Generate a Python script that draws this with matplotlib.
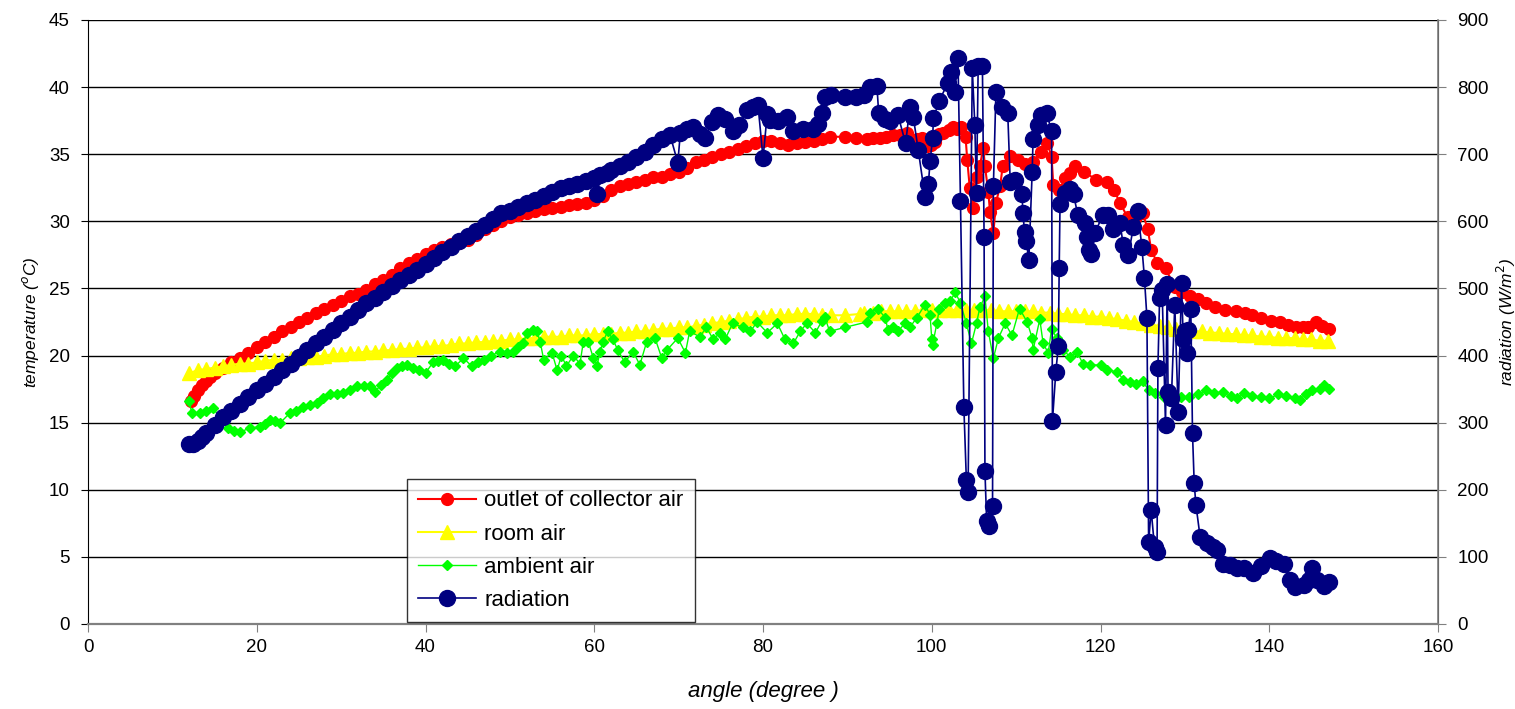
import matplotlib.pyplot as plt

plt.rcParams['font.family'] = ['Liberation Sans', 'DejaVu Sans']

# outlet of collector air (deg C)
outlet_angle = [12.2, 12.6, 13.0, 13.5, 14.0, 14.5, 15.0, 16.0, 17.0, 18.0, 19.0, 20.0,
                21.0, 22.0, 23.0, 24.0, 25.0, 26.0, 27.0, 28.0, 29.0, 30.0, 31.0, 32.0,
                33.0, 34.0, 35.0, 36.0, 37.0, 38.0, 39.0, 40.0, 41.0, 42.0, 43.0, 44.0,
                45.0, 46.0, 47.0, 48.0, 49.0, 50.0, 51.0, 52.0, 53.0, 54.0, 55.0, 56.0,
                57.0, 58.0, 59.0, 60.0, 61.0, 62.0, 63.0, 64.0, 65.0, 66.0, 67.0, 68.0,
                69.0, 70.0, 71.0, 72.0, 73.0, 74.0, 75.0, 76.0, 77.0, 78.0, 79.0, 80.0,
                81.0, 82.0, 83.0, 84.0, 85.0, 86.0, 87.0, 87.9, 89.7, 91.0, 92.3, 93.0,
                93.9, 94.6, 95.4, 96.2, 97.1, 98.2, 98.8, 99.4, 99.9, 100.4, 100.8, 101.3,
                102.0, 102.5, 103.0, 103.5, 104.0, 104.2, 104.5, 104.9, 105.3, 105.7, 106.1, 106.3,
                106.7, 106.9, 107.3, 107.6, 108.1, 108.4, 109.3, 110.2, 111.1, 112.0, 112.9, 113.7,
                114.2, 114.4, 115.1, 115.8, 116.4, 117.0, 118.0, 119.5, 120.8, 121.6, 122.3, 123.2,
                124.1, 125.0, 125.6, 126.0, 126.7, 127.7, 128.8, 129.7, 130.6, 131.5, 132.5, 133.6,
                134.8, 136.0, 137.1, 138.0, 139.0, 140.2, 141.3, 142.2, 143.2, 144.0, 144.6, 145.5,
                146.3, 147.1]
outlet_temp = [16.6, 17.0, 17.4, 17.8, 18.1, 18.4, 18.7, 19.1, 19.5, 19.8, 20.2, 20.6,
               21.0, 21.4, 21.8, 22.1, 22.5, 22.8, 23.2, 23.5, 23.8, 24.1, 24.4, 24.6,
               24.9, 25.3, 25.6, 26.0, 26.5, 26.9, 27.2, 27.6, 27.9, 28.1, 28.3, 28.4,
               28.6, 29.0, 29.4, 29.7, 30.0, 30.3, 30.5, 30.6, 30.8, 30.9, 31.0, 31.1,
               31.2, 31.3, 31.4, 31.6, 31.9, 32.3, 32.6, 32.8, 32.9, 33.1, 33.3, 33.3,
               33.5, 33.7, 34.0, 34.4, 34.6, 34.8, 35.0, 35.2, 35.4, 35.6, 35.8, 36.0,
               36.0, 35.8, 35.7, 35.8, 35.9, 36.0, 36.1, 36.3, 36.3, 36.2, 36.1, 36.2,
               36.2, 36.3, 36.4, 36.4, 36.6, 36.1, 36.2, 35.6, 35.7, 35.9, 36.5, 36.6,
               36.8, 37.0, 36.9, 37.0, 36.3, 34.6, 32.5, 31.0, 33.3, 34.1, 35.5, 34.1,
               32.2, 30.7, 29.1, 31.4, 32.6, 34.1, 34.9, 34.6, 34.3, 34.4, 35.2, 35.8,
               34.8, 32.7, 32.3, 33.2, 33.6, 34.1, 33.7, 33.1, 32.9, 32.3, 31.4, 30.3,
               30.2, 30.6, 29.4, 27.9, 26.9, 26.5, 25.1, 24.7, 24.4, 24.2, 23.9, 23.6,
               23.4, 23.3, 23.2, 23.0, 22.8, 22.6, 22.5, 22.3, 22.1, 22.1, 22.1, 22.5,
               22.2, 22.0]

# room air (deg C)
room_angle = [12, 13, 14, 15, 16, 17, 18, 19, 20, 21, 22, 23, 24, 25, 26, 27, 28, 29,
              30, 31, 32, 33, 34, 35, 36, 37, 38, 39, 40, 41, 42, 43, 44, 45, 46, 47,
              48, 49, 50, 51, 52, 53, 54, 55, 56, 57, 58, 59, 60, 61, 62, 63, 64, 65,
              66, 67, 68, 69, 70, 71, 72, 73, 74, 75, 76, 77, 78, 79, 80, 81, 82, 83,
              84, 85, 86, 87, 88, 89.7, 91.5, 92, 93, 94, 95, 96, 97, 98, 99, 100, 101,
              102, 103, 104, 105, 106, 107, 108, 109, 110, 111, 112, 113, 114, 115, 116, 117,
              118, 119, 120, 121, 122, 123, 124, 125, 126, 127, 128, 129, 130, 131, 132, 133,
              134, 135, 136, 137, 138, 139, 140, 141, 142, 143, 144, 145, 146, 147]
room_temp = [18.7, 18.9, 19.0, 19.1, 19.2, 19.3, 19.4, 19.4, 19.5, 19.6, 19.7, 19.7, 19.8, 19.8, 19.9, 19.9, 20.0, 20.1,
             20.1, 20.2, 20.2, 20.3, 20.3, 20.4, 20.4, 20.5, 20.5, 20.6, 20.6, 20.7, 20.7, 20.8, 20.9, 20.9, 21.0, 21.0,
             21.1, 21.1, 21.2, 21.2, 21.3, 21.3, 21.4, 21.4, 21.4, 21.5, 21.5, 21.5, 21.6, 21.6, 21.6, 21.7, 21.7, 21.8,
             21.8, 21.9, 22.0, 22.0, 22.1, 22.1, 22.2, 22.3, 22.4, 22.5, 22.6, 22.7, 22.8, 22.9, 22.9, 23.0, 23.0, 23.0,
             23.1, 23.1, 23.1, 23.0, 23.0, 23.0, 23.1, 23.2, 23.2, 23.3, 23.3, 23.3, 23.3, 23.3, 23.4, 23.4, 23.4,
             23.4, 23.4, 23.4, 23.4, 23.4, 23.4, 23.3, 23.3, 23.3, 23.3, 23.3, 23.2, 23.2, 23.1, 23.1, 23.0,
             23.0, 22.9, 22.9, 22.8, 22.7, 22.6, 22.5, 22.4, 22.3, 22.2, 22.1, 22.0, 21.9, 21.8, 21.8, 21.7,
             21.7, 21.6, 21.6, 21.5, 21.5, 21.4, 21.4, 21.3, 21.3, 21.3, 21.2, 21.2, 21.1, 21.1]

# ambient air (deg C)
ambient_angle = [12.0, 12.3, 13.3, 14.0, 14.8, 15.6, 16.6, 17.3, 18.0, 19.2, 20.4, 21.0,
                 21.6, 22.2, 22.8, 23.9, 24.7, 25.5, 26.3, 27.1, 27.9, 28.7, 29.5, 30.2,
                 31.0, 31.9, 32.7, 33.4, 34.0, 34.7, 35.4, 36.0, 36.6, 37.2, 37.8, 38.5,
                 39.2, 40.0, 40.9, 41.5, 42.1, 42.8, 43.5, 44.5, 45.5, 46.2, 46.9, 47.8,
                 48.8, 49.6, 50.4, 51.0, 51.6, 52.0, 52.7, 53.2, 53.6, 54.0, 55.0, 55.6,
                 56.1, 56.7, 57.5, 58.3, 58.7, 59.3, 59.9, 60.3, 60.7, 61.0, 61.6, 62.2,
                 62.8, 63.6, 64.6, 65.4, 66.2, 67.2, 68.0, 68.6, 69.9, 70.8, 71.3, 72.5,
                 73.3, 74.1, 74.9, 75.5, 76.4, 77.6, 78.5, 79.3, 80.5, 81.7, 82.6, 83.6,
                 84.4, 85.2, 86.2, 87.0, 87.3, 87.9, 89.7, 92.3, 92.7, 93.6, 94.5, 94.8,
                 95.4, 96.0, 96.8, 97.4, 98.2, 99.2, 99.8, 100.0, 100.1, 100.6, 100.9, 101.6,
                 102.2, 102.8, 103.4, 104.1, 104.7, 105.3, 105.7, 106.3, 106.7, 107.3, 107.9, 108.7,
                 109.5, 110.4, 111.3, 111.9, 112.0, 112.8, 113.2, 113.8, 114.2, 114.8, 115.6, 116.4,
                 117.2, 117.9, 118.8, 120.0, 120.8, 122.0, 122.7, 123.5, 124.2, 125.0, 125.7, 126.5,
                 127.5, 128.5, 129.5, 130.5, 131.5, 132.5, 133.5, 134.5, 135.5, 136.2, 137.0, 138.0,
                 139.0, 140.0, 141.0, 142.0, 143.0, 143.6, 144.3, 145.1, 146.0, 146.5, 147.1]
ambient_temp = [16.6, 15.7, 15.7, 15.9, 16.1, 15.4, 14.6, 14.4, 14.3, 14.6, 14.7, 14.9,
                15.2, 15.1, 15.0, 15.7, 15.9, 16.2, 16.3, 16.5, 16.8, 17.1, 17.1, 17.2,
                17.4, 17.7, 17.7, 17.7, 17.3, 17.8, 18.2, 18.7, 19.1, 19.2, 19.3, 19.1,
                18.9, 18.7, 19.5, 19.6, 19.7, 19.4, 19.2, 19.8, 19.2, 19.5, 19.7, 20.0,
                20.3, 20.2, 20.3, 20.6, 20.9, 21.7, 21.9, 21.8, 21.0, 19.7, 20.2, 18.9,
                20.0, 19.2, 20.0, 19.4, 21.0, 21.0, 19.8, 19.2, 20.3, 21.0, 21.8, 21.2,
                20.4, 19.5, 20.3, 19.3, 21.0, 21.3, 19.8, 20.4, 21.3, 20.2, 21.8, 21.4,
                22.1, 21.2, 21.7, 21.2, 22.4, 22.1, 21.8, 22.5, 21.7, 22.4, 21.2, 20.9,
                21.8, 22.4, 21.7, 22.6, 22.9, 21.8, 22.1, 22.5, 23.2, 23.5, 22.8, 21.9,
                22.1, 21.8, 22.4, 22.1, 22.8, 23.8, 23.0, 21.2, 20.8, 22.4, 23.5, 23.9,
                24.1, 24.7, 23.9, 22.4, 20.9, 22.4, 23.6, 24.4, 21.8, 19.8, 21.3, 22.4,
                21.5, 23.5, 22.5, 21.3, 20.4, 22.7, 20.9, 20.2, 22.0, 21.3, 20.4, 19.9,
                20.3, 19.4, 19.3, 19.3, 18.9, 18.8, 18.2, 18.0, 17.9, 18.1, 17.4, 17.2,
                16.9, 17.0, 16.9, 16.9, 17.1, 17.4, 17.2, 17.3, 17.0, 16.8, 17.2, 17.0,
                16.9, 16.8, 17.1, 17.0, 16.8, 16.7, 17.1, 17.4, 17.5, 17.8, 17.5]

# radiation (W/m2)
rad_angle = [12.0, 12.5, 13.0, 13.5, 14.0, 15.0, 16.0, 17.0, 18.0, 19.0, 20.0, 21.0,
             22.0, 23.0, 24.0, 25.0, 26.0, 27.0, 28.0, 29.0, 30.0, 31.0, 32.0, 33.0,
             34.0, 35.0, 36.0, 37.0, 38.0, 39.0, 40.0, 41.0, 42.0, 43.0, 44.0, 45.0,
             46.0, 47.0, 48.0, 49.0, 50.0, 51.0, 52.0, 53.0, 54.0, 55.0, 56.0, 57.0,
             58.0, 59.0, 60.0, 60.3, 60.7, 61.5, 62.0, 63.0, 64.0, 65.0, 66.0, 67.0,
             68.0, 69.0, 69.9, 70.2, 71.0, 71.7, 72.5, 73.1, 74.0, 74.7, 75.5, 76.4,
             77.2, 78.1, 78.8, 79.4, 80.0, 80.5, 80.8, 81.8, 82.8, 83.6, 84.7, 85.9,
             86.5, 87.0, 87.3, 88.0, 89.7, 91.0, 92.0, 92.7, 93.5, 93.7, 94.5, 95.1,
             96.0, 96.9, 97.4, 97.8, 98.4, 99.2, 99.6, 99.8, 100.1, 100.2, 100.9, 101.9,
             102.3, 102.7, 103.1, 103.4, 103.8, 104.1, 104.3, 104.8, 105.1, 105.3, 105.5, 106.0,
             106.2, 106.3, 106.5, 106.8, 107.2, 107.3, 107.6, 108.3, 109.0, 109.3, 109.9, 110.7,
             110.8, 111.0, 111.2, 111.5, 111.9, 112.0, 112.6, 113.0, 113.6, 114.2, 114.3, 114.7,
             115.0, 115.1, 115.2, 115.8, 116.4, 116.8, 117.3, 118.2, 118.4, 118.6, 118.9, 119.3,
             120.3, 120.9, 121.5, 122.3, 122.7, 123.3, 123.9, 124.4, 124.9, 125.2, 125.5, 125.7,
             126.0, 126.4, 126.7, 126.8, 127.0, 127.3, 127.7, 127.9, 128.0, 128.4, 128.8, 129.2,
             129.6, 129.8, 130.0, 130.2, 130.4, 130.7, 130.9, 131.1, 131.3, 131.8, 132.6, 133.3,
             133.8, 134.5, 135.3, 136.2, 137.0, 138.1, 139.0, 140.1, 140.8, 141.7, 142.5, 143.0,
             144.1, 144.7, 145.1, 145.6, 146.5, 147.1]
rad_value = [268, 268, 272, 278, 284, 296, 308, 318, 328, 338, 348, 358,
             368, 378, 388, 398, 408, 418, 428, 438, 448, 458, 468, 478,
             486, 494, 504, 512, 520, 528, 536, 546, 554, 562, 570, 578,
             586, 594, 604, 612, 616, 622, 628, 632, 638, 644, 650, 652,
             656, 660, 664, 640, 669, 672, 676, 682, 688, 696, 704, 714,
             722, 728, 687, 732, 738, 740, 730, 724, 748, 758, 752, 734,
             744, 766, 770, 774, 694, 760, 751, 750, 756, 734, 738, 738,
             745, 761, 785, 788, 786, 786, 788, 800, 802, 762, 752, 750,
             758, 716, 770, 756, 706, 636, 656, 690, 724, 754, 780, 806,
             822, 792, 844, 630, 324, 214, 196, 828, 744, 642, 832, 832,
             576, 228, 154, 146, 176, 652, 792, 770, 762, 658, 662, 640,
             612, 584, 570, 542, 674, 722, 744, 758, 762, 734, 302, 376,
             414, 530, 626, 642, 648, 640, 610, 598, 576, 558, 552, 582,
             610, 610, 588, 598, 564, 550, 592, 616, 562, 516, 456, 122,
             170, 114, 108, 382, 486, 498, 296, 506, 346, 336, 476, 316,
             508, 424, 436, 404, 438, 470, 284, 210, 178, 130, 120, 114,
             110, 90, 88, 84, 84, 76, 86, 98, 94, 90, 66, 55,
             58, 66, 84, 66, 56, 62]

fig = plt.figure(figsize=(15.15, 7.09), dpi=100)
ax = fig.add_axes([0.0581, 0.1199, 0.8911, 0.8519])
ax2 = ax.twinx()

ax.plot(outlet_angle, outlet_temp, color='#ff0000', lw=1.5, marker='o', ms=8.5,
        mec='#ff0000', mfc='#ff0000', label='outlet of collector air', zorder=3)
ax.plot(room_angle, room_temp, color='#ffff00', lw=1.5, marker='^', ms=9.5,
        mec='#ffff00', mfc='#ffff00', label='room air', zorder=4)
ax.plot(ambient_angle, ambient_temp, color='#00ff00', lw=1, marker='D', ms=5.5,
        mec='#00ff00', mfc='#00ff00', label='ambient air', zorder=5)
ax2.plot(rad_angle, rad_value, color='#000080', lw=1.2, marker='o', ms=11.5,
         mec='#000080', mfc='#000080', label='radiation', zorder=6)

ax.set_xlim(0, 160)
ax.set_ylim(0, 45)
ax2.set_ylim(0, 900)
ax.set_xticks(range(0, 161, 20))
ax.set_yticks(range(0, 46, 5))
ax2.set_yticks(range(0, 901, 100))

ax.yaxis.grid(True, color='black', lw=1)
ax.set_axisbelow(True)

for s in ['top']:
    ax.spines[s].set_visible(False)
    ax2.spines[s].set_visible(False)
ax2.spines['left'].set_visible(False)
ax2.spines['bottom'].set_visible(False)
ax.spines['left'].set_color('black')
ax.spines['bottom'].set_color('#808080')
ax.spines['bottom'].set_linewidth(1.6)
ax2.spines['right'].set_color('#808080')
ax2.spines['right'].set_linewidth(1.2)

ax.tick_params(axis='y', labelsize=13.5, length=5, color='black', pad=8)
ax.tick_params(axis='x', labelsize=13.5, length=6, color='#808080', pad=5)
ax2.tick_params(axis='y', labelsize=13.5, length=6, color='#808080', pad=8)

ax.set_xlabel('angle (degree )', fontsize=16, style='italic', labelpad=18)
ax.set_ylabel('temperature ($^o$C)', fontsize=12.5, style='italic', labelpad=6)
ax2.set_ylabel('radiation (W/m$^{2}$)', fontsize=12.5, style='italic', labelpad=4)

h1, l1 = ax.get_legend_handles_labels()
h2, l2 = ax2.get_legend_handles_labels()
leg = ax2.legend(h1 + h2, l1 + l2, loc='lower left', bbox_to_anchor=(0.236, 0.003),
                 borderaxespad=0, fontsize=16, frameon=True, fancybox=False,
                 edgecolor='black', handlelength=2.6, handletextpad=0.4,
                 labelspacing=0.55, borderpad=0.5)
leg.get_frame().set_linewidth(1.0)

fig.savefig('out.png', dpi=100)
